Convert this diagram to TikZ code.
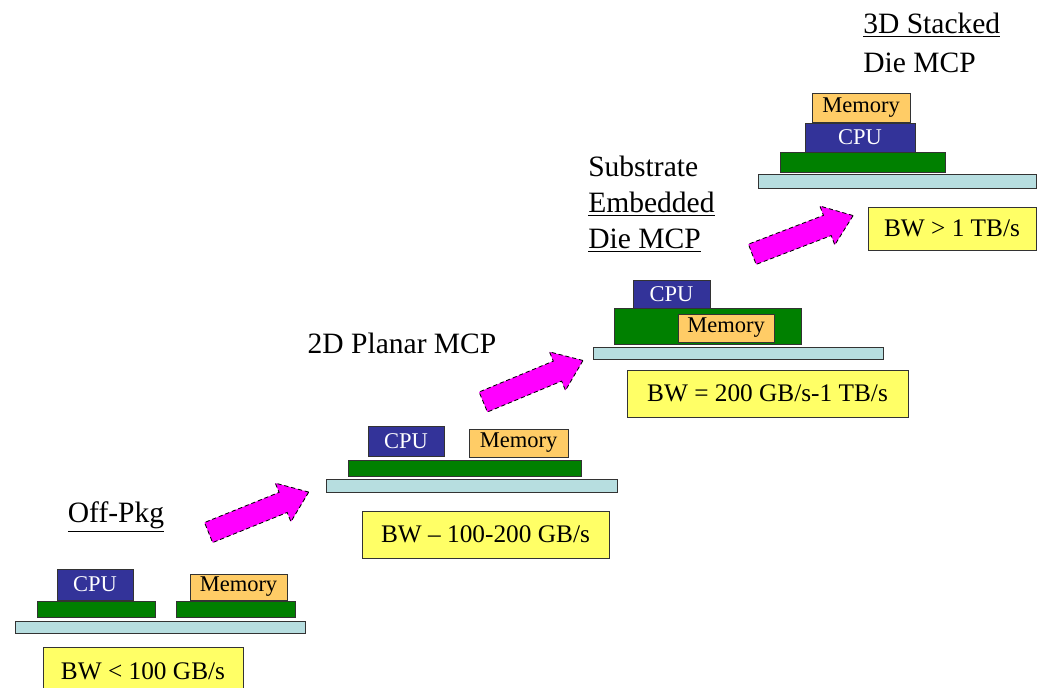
\documentclass[tikz,border=0pt]{standalone}
\usepackage{fontspec}
\setmainfont{Liberation Serif}
\usetikzlibrary{shapes.arrows}
\definecolor{cpublue}{RGB}{51,51,153}
\definecolor{memorange}{RGB}{255,204,102}
\definecolor{pcbgreen}{RGB}{0,128,0}
\definecolor{subcyan}{RGB}{183,222,224}
\definecolor{bwyellow}{RGB}{255,255,102}
\definecolor{arrowpink}{RGB}{255,0,255}
\newcommand{\pxu}{0.025cm}
\tikzset{
  chip/.style={draw=black!80, line width=0.6pt, inner sep=0pt, outer sep=0pt,
    font=\fontsize{16}{18}\selectfont},
  cpubox/.style={chip, fill=cpublue, text=white},
  membox/.style={chip, fill=memorange},
  pcb/.style={chip, fill=pcbgreen},
  substrate/.style={chip, fill=subcyan},
  bwbox/.style={chip, fill=bwyellow, font=\fontsize{18}{20}\selectfont},
  stagelabel/.style={inner sep=0pt, align=left, font=\fontsize{21}{25.6}\selectfont},
  bigarrow/.style={single arrow, draw=black, densely dashed, line width=0.6pt,
    fill=arrowpink, inner xsep=0pt, inner ysep=0.26cm, minimum height=2.7cm,
    single arrow head extend=0.25cm, single arrow tip angle=74}
}

\begin{document}
\begin{tikzpicture}[x=\pxu, y=-\pxu]
\useasboundingbox (0,0) rectangle (1039,688);

% off-package
\node[stagelabel] (labA) at (116,517) {\underline{Off-Pkg}};
\node[substrate, minimum width=290*\pxu, minimum height=12*\pxu] (subA) at (160,627) {};
\node[pcb, minimum width=118*\pxu, minimum height=16*\pxu] (grnA1) at (96,609) {};
\node[pcb, minimum width=119*\pxu, minimum height=16*\pxu] (grnA2) at (235.5,609) {};
\node[cpubox, minimum width=76*\pxu, minimum height=31*\pxu] (cpuA) at (95,584.5) {CPU};
\node[membox, minimum width=97*\pxu, minimum height=26*\pxu] (memA) at (238.5,587) {Memory};
\node[bwbox, minimum width=200*\pxu, minimum height=48*\pxu] (bwA) at (143,671) {BW < 100 GB/s};

% 2D planar
\node[stagelabel] (labB) at (402,343) {2D Planar MCP};
\node[substrate, minimum width=291*\pxu, minimum height=13*\pxu] (subB) at (471.5,485.5) {};
\node[pcb, minimum width=233*\pxu, minimum height=16*\pxu] (grnB) at (464.5,468) {};
\node[cpubox, minimum width=76*\pxu, minimum height=30*\pxu] (cpuB) at (406,441) {CPU};
\node[membox, minimum width=99*\pxu, minimum height=28*\pxu] (memB) at (518.5,443) {Memory};
\node[bwbox, minimum width=247*\pxu, minimum height=47*\pxu] (bwB) at (485.5,534.5) {BW -- 100-200 GB/s};

% embedded die
\node[stagelabel, anchor=west] (labC) at (588,204) {Substrate\\\underline{Embedded}\\\underline{Die MCP}};
\node[substrate, minimum width=290*\pxu, minimum height=12*\pxu] (subC) at (738,353) {};
\node[pcb, minimum width=187*\pxu, minimum height=36*\pxu] (grnC) at (707.5,326) {};
\node[cpubox, minimum width=77*\pxu, minimum height=28*\pxu] (cpuC) at (671.5,294) {CPU};
\node[membox, minimum width=96*\pxu, minimum height=28*\pxu] (memC) at (726,328) {Memory};
\node[bwbox, minimum width=281*\pxu, minimum height=47*\pxu] (bwC) at (767.5,393.5) {BW = 200 GB/s-1 TB/s};

% 3D stacked
\node[stagelabel, anchor=west, font=\fontsize{21}{27.7}\selectfont] (labD) at (863,43) {\underline{3D Stacked}\\Die MCP};
\node[substrate, minimum width=278*\pxu, minimum height=14*\pxu] (subD) at (897,181) {};
\node[pcb, minimum width=165*\pxu, minimum height=20*\pxu] (grnD) at (862.5,162) {};
\node[cpubox, minimum width=110*\pxu, minimum height=29*\pxu] (cpuD) at (860,137.5) {CPU};
\node[membox, minimum width=98*\pxu, minimum height=29*\pxu] (memD) at (861,107.5) {Memory};
\node[bwbox, minimum width=168*\pxu, minimum height=43*\pxu] (bwD) at (952,228.5) {BW > 1 TB/s};

% step arrows
\node[bigarrow, rotate=22] (upA) at (252,515) {};
\node[bigarrow, rotate=22.6] (upB) at (526.5,384) {};
\node[bigarrow, rotate=21] (upC) at (796,237.5) {};
\end{tikzpicture}
\end{document}
